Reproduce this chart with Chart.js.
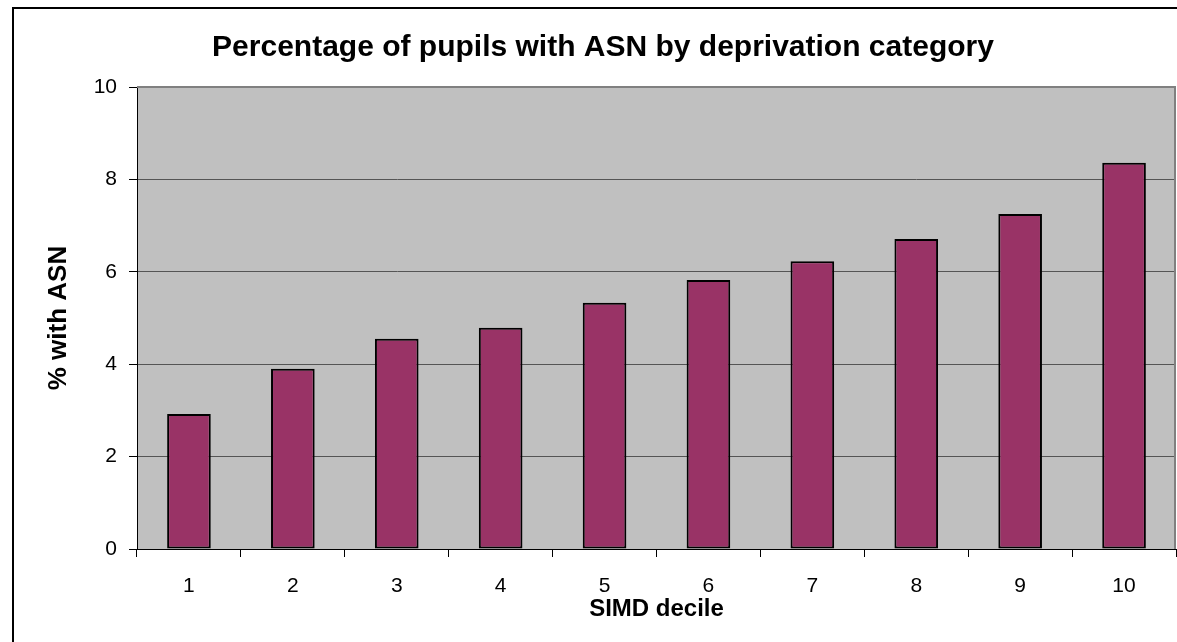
<!DOCTYPE html>
<html><head><meta charset="utf-8">
<script src="https://cdn.jsdelivr.net/npm/chart.js@4/dist/chart.umd.min.js"></script>
<style>html,body{margin:0;padding:0;background:#fff}#wrap{width:1177px;height:642px;position:relative}</style>
</head><body><div id="wrap"><canvas id="c" width="1177" height="642"></canvas></div>
<script>
const titleText = 'Percentage of pupils with ASN by deprivation category';
const xTitle = 'SIMD decile';
const yTitle = '% with ASN';
const categories = ['1','2','3','4','5','6','7','8','9','10'];
const values = [2.92, 3.9, 4.55, 4.79, 5.33, 5.82, 6.23, 6.71, 7.25, 8.36];
const yTicks = [0, 2, 4, 6, 8, 10];

const FONT = '"Liberation Sans", Arial, sans-serif';

const framePlugin = {
  id: 'frame',
  beforeDraw(chart) {
    const {ctx, chartArea: a} = chart;
    ctx.save();
    ctx.fillStyle = '#ffffff';
    ctx.fillRect(0, 0, chart.width, chart.height);
    ctx.strokeStyle = '#000000';
    ctx.lineWidth = 2;
    ctx.strokeRect(13, 8, 2000, 2000);
    ctx.fillStyle = '#C0C0C0';
    ctx.fillRect(a.left, a.top, a.right - a.left, a.bottom - a.top);
    ctx.restore();
  },
  beforeDatasetsDraw(chart) {
    const {ctx, chartArea: a} = chart;
    ctx.save();
    ctx.strokeStyle = '#808080';
    ctx.lineWidth = 2;
    ctx.beginPath();
    ctx.moveTo(a.left, a.top);
    ctx.lineTo(a.right - 1, a.top);
    ctx.lineTo(a.right - 1, a.bottom);
    ctx.stroke();
    ctx.restore();
  }
};

new Chart(document.getElementById('c'), {
  type: 'bar',
  data: {
    labels: categories,
    datasets: [{
      data: values,
      backgroundColor: '#993366',
      borderColor: '#000000',
      borderWidth: 2,
      borderSkipped: false,
      barPercentage: 0.42,
      categoryPercentage: 1.0
    }]
  },
  options: {
    responsive: false,
    devicePixelRatio: 1,
    animation: false,
    layout: { padding: { left: 30, right: 1, top: 0, bottom: 0 } },
    plugins: {
      legend: { display: false },
      tooltip: { enabled: false },
      title: {
        display: true,
        text: titleText,
        color: '#000000',
        font: { family: FONT, size: 30, weight: 'bold', lineHeight: 1.2 },
        padding: { top: 30, bottom: 21 }
      }
    },
    scales: {
      x: {
        offset: true,
        grid: { display: true, drawOnChartArea: false, offset: true, tickLength: 8, tickColor: '#000000', tickWidth: 1 },
        border: { display: true, color: '#000000', width: 1 },
        ticks: { color: '#000000', font: { family: FONT, size: 21 }, padding: 17, maxRotation: 0 },
        title: { display: true, text: xTitle, color: '#000000', font: { family: FONT, size: 24, weight: 'bold', lineHeight: 1.2 }, padding: { top: 0, bottom: 18.6 } },
        afterFit(scale) { scale.height = 93; }
      },
      y: {
        min: 0, max: 10,
        afterBuildTicks(scale) { scale.ticks = yTicks.map(v => ({ value: v })); },
        grid: { color: '#555555', lineWidth: 1, tickLength: 8, tickColor: '#000000', drawTicks: true },
        border: { display: true, color: '#000000', width: 1 },
        ticks: { color: '#000000', font: { family: FONT, size: 21 }, padding: 12 },
        title: { display: true, text: yTitle, color: '#000000', font: { family: FONT, size: 26, weight: 'bold', lineHeight: 1.2 }, padding: { top: 13.4, bottom: 0 } },
        afterFit(scale) { scale.width = 107; }
      }
    }
  },
  plugins: [framePlugin]
});
</script>
</body></html>
